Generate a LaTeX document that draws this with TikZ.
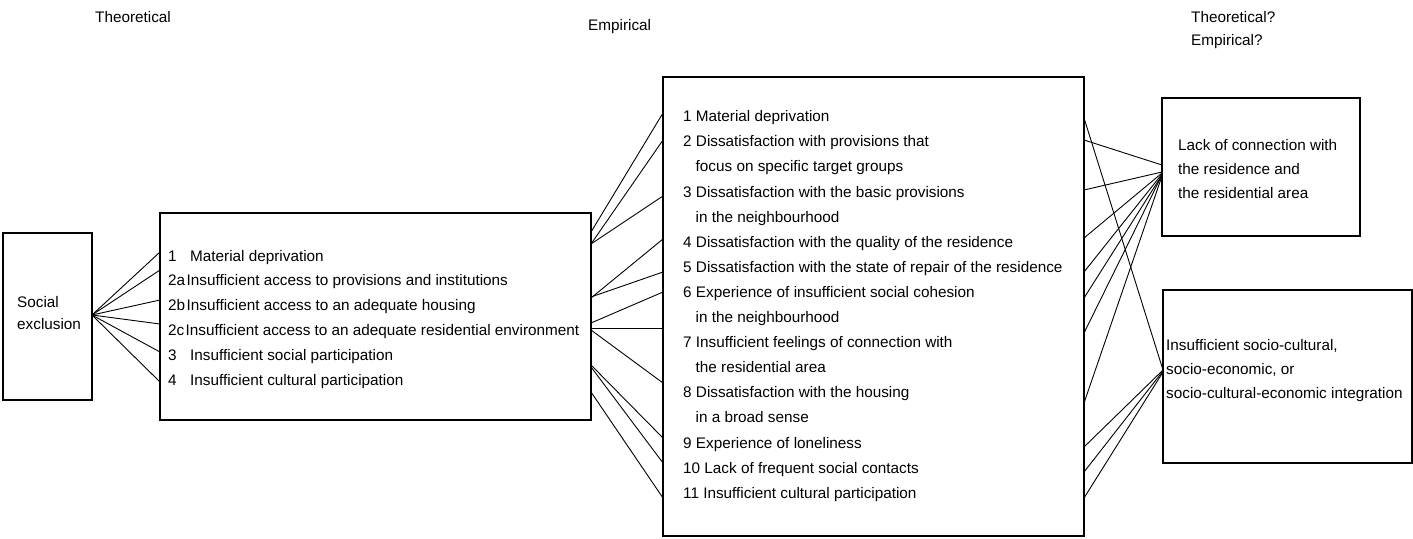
\documentclass[tikz,border=0pt]{standalone}
\usepackage{fontspec}
\setmainfont{Liberation Sans}
\begin{document}
\begin{tikzpicture}[x=1pt,y=-1pt,
  box/.style={draw, line width=1.2pt, inner sep=0pt, outer sep=0pt, anchor=north west},
  txt/.style={inner sep=0pt, anchor=base west, font=\fontsize{15.3pt}{18pt}\selectfont},
  link/.style={line width=0.9pt}]
\useasboundingbox (0,0) rectangle (1413,538);
\fill[white] (0,0) rectangle (1413,538);

% column headings
\node[txt] (h1) at (95,23) {Theoretical};
\node[txt] (h2) at (588,30) {Empirical};
\node[txt] (h3) at (1191,23) {Theoretical?};
\node[txt] (h4) at (1191,45) {Empirical?};

% boxes
\node[box, minimum width=89pt,  minimum height=167pt] (b1) at (3,233) {};
\node[box, minimum width=431pt, minimum height=207pt] (b2) at (160,213) {};
\node[box, minimum width=421pt, minimum height=459pt] (b3) at (663,77) {};
\node[box, minimum width=198pt, minimum height=138pt] (b4) at (1162,98) {};
\node[box, minimum width=249pt, minimum height=173pt] (b5) at (1163,290) {};

% social exclusion
\node[txt] (s1) at (17,307) {Social};
\node[txt] (s2) at (17,329) {exclusion};

% theoretical dimensions
\foreach \t [count=\i] in {
  {\makebox[22pt][l]{1}Material deprivation},
  {\makebox[18.5pt][l]{2a}Insufficient access to provisions and institutions},
  {\makebox[18.5pt][l]{2b}Insufficient access to an adequate housing},
  {\makebox[17.5pt][l]{2c}Insufficient access to an adequate residential environment},
  {\makebox[22pt][l]{3}Insufficient social participation},
  {\makebox[22pt][l]{4}Insufficient cultural participation}}
  \node[txt] (t\i) at (168,{261+24.8*(\i-1)}) {\t};

% empirical indicators
\foreach \t [count=\i] in {
  {1 Material deprivation},
  {2 Dissatisfaction with provisions that},
  {\hspace*{12.5pt}focus on specific target groups},
  {3 Dissatisfaction with the basic provisions},
  {\hspace*{12.5pt}in the neighbourhood},
  {4 Dissatisfaction with the quality of the residence},
  {5 Dissatisfaction with the state of repair of the residence},
  {6 Experience of insufficient social cohesion},
  {\hspace*{12.5pt}in the neighbourhood},
  {7 Insufficient feelings of connection with},
  {\hspace*{12.5pt}the residential area},
  {8 Dissatisfaction with the housing},
  {\hspace*{12.5pt}in a broad sense},
  {9 Experience of loneliness},
  {10 Lack of frequent social contacts},
  {11 Insufficient cultural participation}}
  \node[txt] (e\i) at (683,{121.7+25.1*(\i-1)}) {\t};

% outcome boxes
\node[txt] (r1) at (1178,150.5) {Lack of connection with};
\node[txt] (r2) at (1178,174.5) {the residence and};
\node[txt] (r3) at (1178,198.5) {the residential area};
\node[txt] (q1) at (1166,350.5) {Insufficient socio-cultural,};
\node[txt] (q2) at (1166,374.5) {socio-economic, or};
\node[txt] (q3) at (1166,398.5) {socio-cultural-economic integration};

% social exclusion -> theoretical dimensions
\foreach \y in {252,270,300,324,352,382}
  \draw[link] (b1.east |- 0,315) -- (b2.west |- 0,\y);

% theoretical dimensions -> empirical indicators
\foreach \ya/\yb in {232/113, 244/140, 244/196, 298/239, 297/272, 323/292,
                     328/328, 330/383, 365/438, 367/463, 392/498}
  \draw[link] (b2.east |- 0,\ya) -- (b3.west |- 0,\yb);

% empirical indicators -> outcomes
\foreach \ya/\yb in {140/165, 190/172, 238/173, 272/174, 298/175, 333/175, 403/176}
  \draw[link] (b3.east |- 0,\ya) -- (b4.west |- 0,\yb);
\foreach \ya/\yb in {118/370, 447/370, 472/371, 498/372}
  \draw[link] (b3.east |- 0,\ya) -- (b5.west |- 0,\yb);
\end{tikzpicture}
\end{document}
